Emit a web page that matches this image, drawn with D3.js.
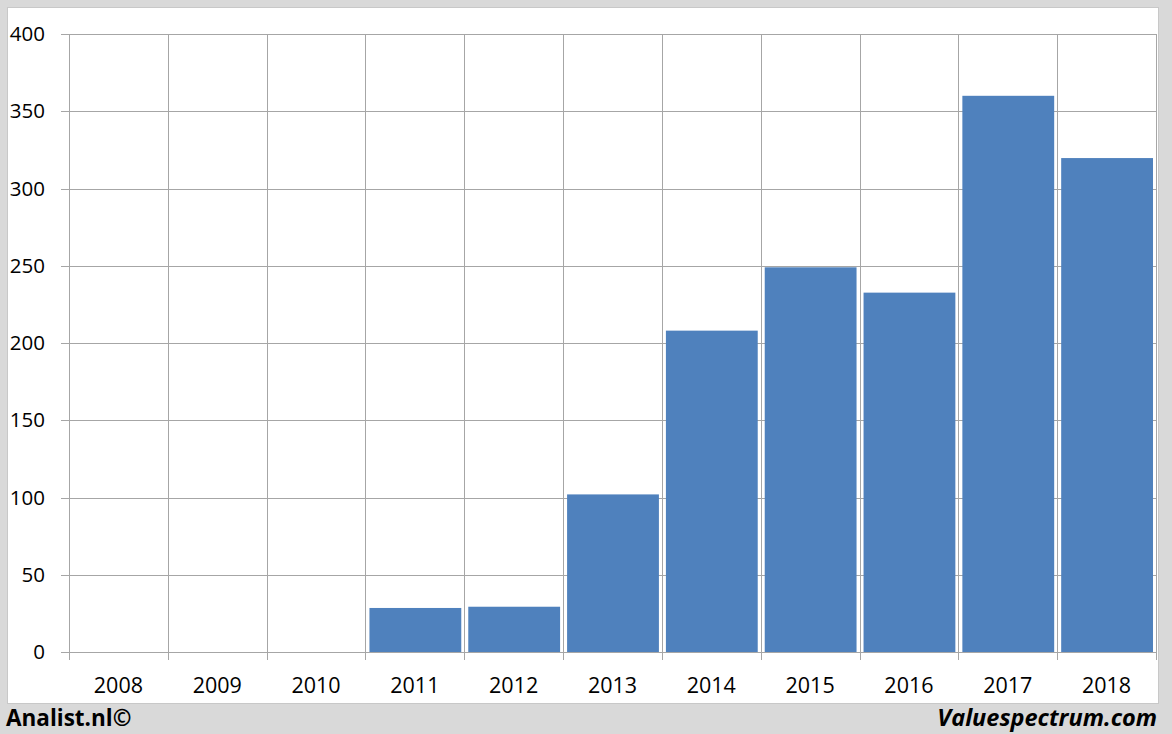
<!DOCTYPE html>
<html><head><meta charset="utf-8">
<script src="https://cdn.jsdelivr.net/npm/d3@7"></script>
<style>html,body{margin:0;padding:0;background:#d9d9d9;}svg{display:block;}</style>
</head><body>
<svg id="chart" width="1172" height="734"></svg>
<script>
const categories = ["2008","2009","2010","2011","2012","2013","2014","2015","2016","2017","2018"];
const values = [null, null, null, 28.5, 29.3, 102, 208, 249, 232.6, 360, 319.7];
const yTicks = [0, 50, 100, 150, 200, 250, 300, 350, 400];

(function(){
const svg = d3.select("#chart");
const W = 1172, H = 734;
const font = "'Open Sans', 'DejaVu Sans', sans-serif";

svg.append("rect").attr("x",0).attr("y",0).attr("width",W).attr("height",H).attr("fill","#d9d9d9");
svg.append("rect").attr("x",7.5).attr("y",7.5).attr("width",1151).attr("height",696)
  .attr("fill","#fff").attr("stroke","#c8c8c8").attr("stroke-width",1);

const pLeft = 69, pRight = 1156, pTop = 34, pBottom = 652;
const x = d3.scaleBand().domain(categories).range([pLeft, pRight]).paddingInner(0).paddingOuter(0);
const y = d3.scaleLinear().domain([0, 400]).range([pBottom, pTop]);

const grid = svg.append("g");
yTicks.forEach(t => {
  grid.append("line").attr("x1", pLeft - 8).attr("x2", pRight)
    .attr("y1", Math.round(y(t)) + 0.5).attr("y2", Math.round(y(t)) + 0.5)
    .attr("stroke", "#a6a6a6").attr("stroke-width", 1);
});
const bounds = categories.map(c => x(c)).concat([pRight]);
bounds.forEach(b => {
  grid.append("line").attr("x1", Math.round(b) + 0.5).attr("x2", Math.round(b) + 0.5)
    .attr("y1", pTop).attr("y2", pBottom + 8)
    .attr("stroke", "#a6a6a6").attr("stroke-width", 1);
});

const gap = 4;
svg.append("g").selectAll("rect").data(categories.map((c,i)=>({c, v: values[i]})).filter(d => d.v != null))
  .join("rect")
  .attr("x", d => x(d.c) + gap)
  .attr("width", x.bandwidth() - 2*gap + 1)
  .attr("y", d => y(d.v))
  .attr("height", d => y(0) - y(d.v))
  .attr("fill", "#4f81bd");

svg.append("g").selectAll("text").data(yTicks).join("text")
  .attr("x", 45).attr("y", d => y(d)).attr("dy", "0.35em")
  .attr("text-anchor", "end")
  .attr("font-family", font).attr("font-size", 20.5).attr("fill", "#000")
  .text(d => d);

svg.append("g").selectAll("text").data(categories).join("text")
  .attr("x", d => x(d) + x.bandwidth()/2).attr("y", 693)
  .attr("text-anchor", "middle")
  .attr("font-family", font).attr("font-size", 21.5).attr("fill", "#000")
  .text(d => d);

svg.append("text").attr("x", 6).attr("y", 726)
  .attr("font-family", font).attr("font-size", 22.5).attr("font-weight", "bold").attr("fill", "#000")
  .text("Analist.nl©");
svg.append("text").attr("x", 1157).attr("y", 726).attr("text-anchor", "end")
  .attr("font-family", font).attr("font-size", 23.5).attr("font-weight", "bold").attr("font-style", "italic").attr("fill", "#000")
  .text("Valuespectrum.com");
})();
</script>
</body></html>
